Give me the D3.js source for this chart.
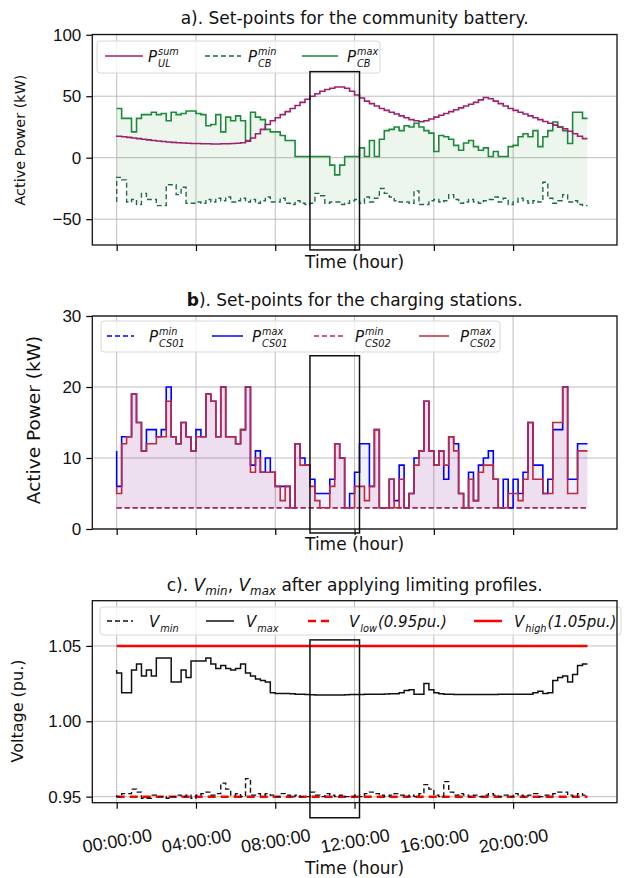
<!DOCTYPE html>
<html>
<head>
<meta charset="utf-8">
<script src="https://cdn.jsdelivr.net/npm/d3@7/dist/d3.min.js"></script>
<style>
  body { margin: 0; background: #fff; }
  svg { display: block; font-family: 'DejaVu Sans', sans-serif; }
</style>
</head>
<body>
<div id="chart"></div>
<script>
// ---- data (15 minute steps, 96 points from 00:00 to 23:45) ----
var stepHours = 0.25;
var tickHours = [0, 4, 8, 12, 16, 20];
var tickLabels = ['00:00:00', '04:00:00', '08:00:00', '12:00:00', '16:00:00', '20:00:00'];
var highlightHours = [9.75, 12.25];

// a) community battery (kW)
var pUlSum = [18, 17.5, 17, 16.5, 16, 15.5, 15, 14.5, 14, 13.6,
  13.2, 12.8, 12.5, 12.2, 12, 11.8, 11.6, 11.5, 11.4, 11.3,
  11.2, 11.2, 11.3, 11.4, 11.5, 11.8, 12.2, 13.5, 16, 19.5,
  23, 27, 30, 32.5, 35, 37.5, 40, 42.5, 45, 47.5,
  50, 52, 54, 55.5, 56.5, 57.5, 57.5, 56.5, 54, 51,
  48.5, 46, 44, 42, 40, 38.5, 37, 35.5, 34, 32.5,
  31, 30, 29.3, 30, 31.5, 33, 34.5, 36, 37.5, 39,
  40.5, 42, 43.5, 45, 47, 49, 48, 46, 44, 42,
  40, 38.5, 37, 35.5, 34, 32.5, 31, 29.5, 28, 26.5,
  25, 23.5, 21.5, 19.5, 17.5, 15.5];
var pCbMin = [-36, -16, -18, -36, -34, -38, -29, -34, -34, -39,
  -39, -22, -22, -30, -24, -37, -37, -36, -37, -34,
  -36, -33, -35, -32, -36, -35, -33, -36, -34, -37,
  -35, -32, -36, -36, -33, -37, -38, -35, -37, -38,
  -37, -29, -31, -37, -36, -36, -38, -37, -35, -34,
  -37, -32, -36, -33, -25, -29, -32, -35, -36, -36,
  -37, -27, -38, -38, -35, -34, -36, -35, -30, -34,
  -37, -36, -34, -36, -37, -35, -34, -32, -36, -33,
  -38, -36, -33, -35, -37, -35, -36, -20, -33, -37,
  -35, -30, -36, -35, -38, -39];
var pCbMax = [40, 40, 32, 32, 21, 32, 35, 35, 37, 35,
  36, 30, 37, 35, 36, 38, 38, 36, 35, 26,
  27, 35, 21, 33, 30, 34, 30, 14, 37, 33,
  31, 23, 21, 21, 18, 14, 14, 1, 1, 1,
  1, 1, 1, 1, -6, -14, -6, 1, 1, 1,
  8, 1, 14, 1, 15, 22, 23, 25, 22, 26,
  25, 28, 25, 22, 20, 5, 18, 17, 15, 10,
  6, 12, 14, 9, 6, 8, 1, 5, 1, 1,
  9, 10, 17, 19.5, 17, 22, 9, 17, 22, 29,
  25, 22, 11.5, 37, 37, 32];

// b) charging stations (kW)
var pCsMinLevel = 3;
var pCs01Max = [11, 6, 13, 13, 19, 15, 11, 14, 14, 13,
  14, 20, 13, 12, 15, 13, 11, 14, 13, 19,
  18, 13, 20, 13, 13, 12, 14, 20, 9, 11,
  8, 10, 8, 6, 6, 6, 3, 12, 10, 9,
  7, 5, 5, 5, 7, 12, 10, 3, 5, 8,
  12, 12, 6, 14, 3, 3, 7, 4, 9, 3,
  5, 10, 11, 18, 11, 9, 11, 7, 13, 12,
  5, 3, 8, 4, 9, 10, 11, 7, 3, 7,
  3, 7, 5, 8, 15, 9, 9, 5, 7, 14,
  14, 20, 7, 7, 12, 12];
var pCs02Max = [6, 5, 12, 13, 19, 15, 11, 12, 12, 13,
  13, 18, 13, 12, 15, 13, 11, 13, 13, 19,
  18, 13, 20, 13, 13, 12, 14, 20, 8, 10,
  8, 8, 8, 6, 4, 6, 3, 12, 9, 9,
  6, 4, 3, 3, 6, 12, 10, 3, 3, 6,
  6, 4, 6, 14, 3, 3, 7, 3, 7, 3,
  5, 9, 11, 18, 11, 9, 11, 9, 13, 11,
  5, 3, 7, 4, 8, 9, 9, 7, 3, 3,
  5, 5, 4, 7, 15, 7, 7, 5, 5, 15,
  15, 20, 5, 5, 11, 11];

// c) voltages (pu.)
var vLow = 0.95;
var vHigh = 1.05;
var vMin = [0.951, 0.950, 0.952, 0.952, 0.955, 0.953, 0.949, 0.949, 0.951, 0.950,
  0.950, 0.949, 0.950, 0.951, 0.950, 0.951, 0.949, 0.951, 0.952, 0.953,
  0.951, 0.952, 0.959, 0.955, 0.951, 0.952, 0.950, 0.962, 0.951, 0.952,
  0.951, 0.952, 0.951, 0.950, 0.952, 0.951, 0.950, 0.951, 0.950, 0.950,
  0.953, 0.951, 0.950, 0.952, 0.951, 0.950, 0.951, 0.950, 0.950, 0.951,
  0.950, 0.952, 0.953, 0.952, 0.951, 0.950, 0.951, 0.952, 0.951, 0.950,
  0.951, 0.950, 0.952, 0.958, 0.955, 0.951, 0.950, 0.960, 0.953, 0.951,
  0.952, 0.951, 0.950, 0.951, 0.950, 0.951, 0.952, 0.951, 0.950, 0.951,
  0.950, 0.952, 0.951, 0.950, 0.951, 0.952, 0.950, 0.951, 0.951, 0.952,
  0.953, 0.953, 0.951, 0.950, 0.952, 0.951];
var vMax = [1.034, 1.032, 1.019, 1.019, 1.034, 1.038, 1.030, 1.034, 1.030, 1.042,
  1.042, 1.042, 1.026, 1.026, 1.034, 1.029, 1.040, 1.040, 1.040, 1.042,
  1.038, 1.035, 1.037, 1.035, 1.034, 1.035, 1.038, 1.032, 1.030, 1.028,
  1.027, 1.026, 1.019, 1.0185, 1.0185, 1.0185, 1.0182, 1.018, 1.018, 1.0178,
  1.0176, 1.0175, 1.0174, 1.0174, 1.0174, 1.0175, 1.0175, 1.0176, 1.0177, 1.0178,
  1.0178, 1.0179, 1.018, 1.018, 1.018, 1.0181, 1.0182, 1.0183, 1.019, 1.0205,
  1.021, 1.018, 1.018, 1.025, 1.021, 1.019, 1.0182, 1.018, 1.018, 1.0178,
  1.0178, 1.0178, 1.0178, 1.0178, 1.0178, 1.0178, 1.0178, 1.0178, 1.0179, 1.018,
  1.018, 1.018, 1.018, 1.018, 1.018, 1.019, 1.020, 1.0185, 1.019, 1.027,
  1.029, 1.030, 1.026, 1.031, 1.037, 1.038];

(function () {
  'use strict';

  var width = 625, height = 878;
  var font = 17;

  var times = pUlSum.map(function(d, i) { return i * stepHours; });

  var svg = d3.select('#chart').append('svg')
    .attr('width', width)
    .attr('height', height);

  // shared x scale, the three panels are aligned
  var x = d3.scaleLinear().domain([-1.23, 25.24]).range([92.3, 617]);

  function stepLine(y) {
    return d3.line()
      .x(function(d, i) { return x(times[i]); })
      .y(function(d) { return y(d); })
      .curve(d3.curveStepBefore);
  }

  function stepArea(y, lower, upper) {
    return d3.area()
      .x(function(d, i) { return x(times[i]); })
      .y0(function(d, i) { return y(lower(i)); })
      .y1(function(d, i) { return y(upper(i)); })
      .curve(d3.curveStepBefore);
  }

  // math style label in one text node: italic base, sup and sub stacked
  function mathLabel(g, px, py, base, sup, sub, size, tail) {
    var small = size * 0.65;
    var t = g.append('text')
      .attr('x', px).attr('y', py)
      .style('font-size', size + 'px')
      .style('font-style', 'italic')
      .attr('fill', '#111');
    t.append('tspan').text(base);
    var wBase = t.node().getComputedTextLength();
    var wSup = 0, wSub = 0;
    if (sup) {
      var ts = t.append('tspan')
        .attr('x', px + wBase + 1).attr('y', py - size * 0.5)
        .style('font-size', small + 'px')
        .text(sup);
      wSup = ts.node().getComputedTextLength();
    }
    if (sub) {
      var tb = t.append('tspan')
        .attr('x', px + wBase + 1).attr('y', py + size * 0.3)
        .style('font-size', small + 'px')
        .text(sub);
      wSub = tb.node().getComputedTextLength();
    }
    if (tail) {
      t.append('tspan')
        .attr('x', px + wBase + 2 + Math.max(wSup, wSub)).attr('y', py)
        .text(tail);
    }
  }

  function drawFrame(y, yTicks, yFormat, showLabels) {
    var g = svg.append('g');
    var r = y.range();
    var x0 = x.range()[0], x1 = x.range()[1];

    // grid
    g.selectAll('.vgrid').data(tickHours).enter().append('line')
      .attr('x1', function(d) { return x(d); })
      .attr('x2', function(d) { return x(d); })
      .attr('y1', r[1]).attr('y2', r[0])
      .attr('stroke', '#b0b0b0').attr('stroke-width', 1).attr('opacity', 0.8);
    g.selectAll('.hgrid').data(yTicks).enter().append('line')
      .attr('x1', x0).attr('x2', x1)
      .attr('y1', function(d) { return y(d); })
      .attr('y2', function(d) { return y(d); })
      .attr('stroke', '#b0b0b0').attr('stroke-width', 1).attr('opacity', 0.8);

    var yAxis = d3.axisLeft(y).tickValues(yTicks).tickFormat(yFormat).tickSize(6).tickPadding(5);
    g.append('g')
      .attr('transform', 'translate(' + x0 + ',0)')
      .call(yAxis)
      .call(function(s) { s.select('.domain').remove(); })
      .selectAll('text')
        .style('font-size', font + 'px')
        .attr('fill', '#111');

    var xAxis = d3.axisBottom(x).tickValues(tickHours).tickSize(6).tickPadding(6)
      .tickFormat(function(d, i) { return showLabels ? tickLabels[i] : ''; });
    var xa = g.append('g')
      .attr('transform', 'translate(0,' + r[0] + ')')
      .call(xAxis)
      .call(function(s) { s.select('.domain').remove(); });
    g.selectAll('.tick line').attr('stroke-width', 1.2);
    if (showLabels) {
      // slanted time labels, nearly touching as in the original
      xa.selectAll('text')
        .style('font-size', '18px')
        .attr('fill', '#111')
        .attr('text-anchor', 'middle')
        .attr('y', 0)
        .attr('dy', '0.35em')
        .attr('transform', 'translate(0,38) rotate(-10)');
    }
    return g;
  }

  function drawSpines(y) {
    var r = y.range();
    svg.append('rect')
      .attr('x', x.range()[0]).attr('y', r[1])
      .attr('width', x.range()[1] - x.range()[0])
      .attr('height', r[0] - r[1])
      .attr('fill', 'none').attr('stroke', '#111').attr('stroke-width', 1.3);
  }

  function drawHighlight(y, lo, hi) {
    svg.append('rect')
      .attr('x', x(highlightHours[0])).attr('y', y(hi))
      .attr('width', x(highlightHours[1]) - x(highlightHours[0]))
      .attr('height', y(lo) - y(hi))
      .attr('fill', 'none').attr('stroke', '#111').attr('stroke-width', 1.5);
  }

  function legendFrame(x0, y0, w, h) {
    return svg.append('rect')
      .attr('x', x0).attr('y', y0).attr('width', w).attr('height', h)
      .attr('rx', 3)
      .attr('fill', '#fff').attr('fill-opacity', 0.8)
      .attr('stroke', '#d8d8d8').attr('stroke-width', 1);
  }

  function legendHandle(x0, x1, yy, color, dash, sw) {
    svg.append('line')
      .attr('x1', x0).attr('x2', x1).attr('y1', yy).attr('y2', yy)
      .attr('stroke', color).attr('stroke-width', sw || 1.5)
      .attr('stroke-dasharray', dash || null);
  }

  function title(y0, parts) {
    var t = svg.append('text')
      .attr('x', (x.range()[0] + x.range()[1]) / 2)
      .attr('y', y0)
      .attr('text-anchor', 'middle')
      .style('font-size', font + 'px')
      .attr('fill', '#111');
    parts.forEach(function(p) {
      var s = t.append('tspan').text(p.text);
      if (p.italic) s.style('font-style', 'italic');
      if (p.bold) s.style('font-weight', 'bold');
      if (p.sub) s.style('font-size', (font * 0.7) + 'px').attr('dy', 4);
      if (p.up) s.attr('dy', -4);
    });
  }

  function yLabel(cx, cy, text, size) {
    svg.append('text')
      .attr('transform', 'translate(' + cx + ',' + cy + ') rotate(-90)')
      .attr('text-anchor', 'middle')
      .style('font-size', size + 'px')
      .attr('fill', '#111')
      .text(text);
  }

  function xLabel(yy) {
    svg.append('text')
      .attr('x', (x.range()[0] + x.range()[1]) / 2)
      .attr('y', yy)
      .attr('text-anchor', 'middle')
      .style('font-size', font + 'px')
      .attr('fill', '#111')
      .text('Time (hour)');
  }

  var minus = function(d) { return d < 0 ? '\u2212' + Math.abs(d) : String(d); };

  // ---------- a) community battery ----------
  var yA = d3.scaleLinear().domain([-71, 100.2]).range([245, 34.5]);
  drawFrame(yA, [-50, 0, 50, 100], minus, false);

  svg.append('path').datum(pCbMax)
    .attr('d', stepArea(yA, function(i) { return pCbMin[i]; }, function(i) { return pCbMax[i]; }))
    .attr('fill', 'green').attr('fill-opacity', 0.07);
  svg.append('path').datum(pCbMin)
    .attr('d', stepLine(yA))
    .attr('fill', 'none').attr('stroke', '#1f6a4e').attr('stroke-width', 1.4)
    .attr('stroke-dasharray', '5,3');
  svg.append('path').datum(pCbMax)
    .attr('d', stepLine(yA))
    .attr('fill', 'none').attr('stroke', '#1b8a3a').attr('stroke-width', 1.6);
  svg.append('path').datum(pUlSum)
    .attr('d', stepLine(yA))
    .attr('fill', 'none').attr('stroke', '#a0206e').attr('stroke-width', 1.6);

  legendFrame(97, 41, 283, 32);
  legendHandle(105, 143, 56, '#a0206e');
  mathLabel(svg, 148, 62, 'P', 'sum', 'UL', 15);
  legendHandle(205, 241, 56, '#1f6a4e', '5,3');
  mathLabel(svg, 248, 62, 'P', 'min', 'CB', 15);
  legendHandle(302, 338, 56, '#1b8a3a');
  mathLabel(svg, 347, 62, 'P', 'max', 'CB', 15);

  drawSpines(yA);
  drawHighlight(yA, -75, 70);
  title(24, [{ text: 'a). Set-points for the community battery.' }]);
  yLabel(25, 140, 'Active Power (kW)', 14.4);
  xLabel(268);

  // ---------- b) charging stations ----------
  var yB = d3.scaleLinear().domain([0, 30]).range([529, 316]);
  drawFrame(yB, [0, 10, 20, 30], d3.format('d'), false);

  svg.append('path').datum(pCs01Max)
    .attr('d', stepArea(yB, function() { return pCsMinLevel; }, function(i) { return pCs01Max[i]; }))
    .attr('fill', 'blue').attr('fill-opacity', 0.06);
  svg.append('path').datum(pCs02Max)
    .attr('d', stepArea(yB, function() { return pCsMinLevel; }, function(i) { return pCs02Max[i]; }))
    .attr('fill', 'crimson').attr('fill-opacity', 0.08);
  svg.append('line')
    .attr('x1', x(times[0])).attr('x2', x(times[times.length - 1]))
    .attr('y1', yB(pCsMinLevel)).attr('y2', yB(pCsMinLevel))
    .attr('stroke', 'blue').attr('stroke-width', 1.5).attr('stroke-dasharray', '5,3');
  svg.append('line')
    .attr('x1', x(times[0])).attr('x2', x(times[times.length - 1]))
    .attr('y1', yB(pCsMinLevel)).attr('y2', yB(pCsMinLevel))
    .attr('stroke', '#c0283e').attr('stroke-width', 1.5).attr('stroke-dasharray', '5,3');
  svg.append('path').datum(pCs01Max)
    .attr('d', stepLine(yB))
    .attr('fill', 'none').attr('stroke', 'blue').attr('stroke-width', 1.6);
  svg.append('path').datum(pCs02Max)
    .attr('d', stepLine(yB))
    .attr('fill', 'none').attr('stroke', '#c0283e').attr('stroke-width', 1.6);

  legendFrame(101, 321, 399, 31);
  legendHandle(107, 134, 336, 'blue', '5,3');
  mathLabel(svg, 149, 342, 'P', 'min', 'CS01', 15);
  legendHandle(212, 243, 336, 'blue');
  mathLabel(svg, 252, 342, 'P', 'max', 'CS01', 15);
  legendHandle(314, 344, 336, '#c0283e', '5,3');
  mathLabel(svg, 355, 342, 'P', 'min', 'CS02', 15);
  legendHandle(419, 449, 336, '#c0283e');
  mathLabel(svg, 460, 342, 'P', 'max', 'CS02', 15);

  drawSpines(yB);
  drawHighlight(yB, -0.56, 24.4);
  title(306, [{ text: 'b', bold: true }, { text: '). Set-points for the charging stations.' }]);
  yLabel(40, 420, 'Active Power (kW)', 18.5);
  xLabel(550);

  // ---------- c) voltages ----------
  var yC = d3.scaleLinear().domain([0.946, 1.080]).range([802.7, 600.7]);
  drawFrame(yC, [0.95, 1.00, 1.05], d3.format('.2f'), true);

  svg.append('line')
    .attr('x1', x(times[0])).attr('x2', x(times[times.length - 1]))
    .attr('y1', yC(vLow)).attr('y2', yC(vLow))
    .attr('stroke', 'red').attr('stroke-width', 2.5).attr('stroke-dasharray', '8,5');
  svg.append('line')
    .attr('x1', x(times[0])).attr('x2', x(times[times.length - 1]))
    .attr('y1', yC(vHigh)).attr('y2', yC(vHigh))
    .attr('stroke', 'red').attr('stroke-width', 2.5);
  svg.append('path').datum(vMin)
    .attr('d', stepLine(yC))
    .attr('fill', 'none').attr('stroke', '#111').attr('stroke-width', 1.4)
    .attr('stroke-dasharray', '5,3');
  svg.append('path').datum(vMax)
    .attr('d', stepLine(yC))
    .attr('fill', 'none').attr('stroke', '#111').attr('stroke-width', 1.5);

  legendFrame(100, 607, 521, 28);
  legendHandle(107, 133, 621, '#111', '5,3');
  mathLabel(svg, 149, 627, 'V', null, 'min', 15);
  legendHandle(206, 234, 621, '#111');
  mathLabel(svg, 246, 627, 'V', null, 'max', 15);
  legendHandle(308, 333, 621, 'red', '8,5', 2.5);
  mathLabel(svg, 349, 627, 'V', null, 'low', 15, '(0.95pu.)');
  legendHandle(474, 502, 621, 'red', null, 2.5);
  mathLabel(svg, 514, 627, 'V', null, 'high', 15, '(1.05pu.)');

  drawSpines(yC);
  drawHighlight(yC, 0.936, 1.054);
  title(591, [
    { text: 'c). ' },
    { text: 'V', italic: true }, { text: 'min', italic: true, sub: true }, { text: ', ', up: true },
    { text: 'V', italic: true }, { text: 'max', italic: true, sub: true }, { text: ' after applying limiting profiles.', up: true }
  ]);
  yLabel(23, 711, 'Voltage (pu.)', 16);
  xLabel(874);
}());
</script>
</body>
</html>
